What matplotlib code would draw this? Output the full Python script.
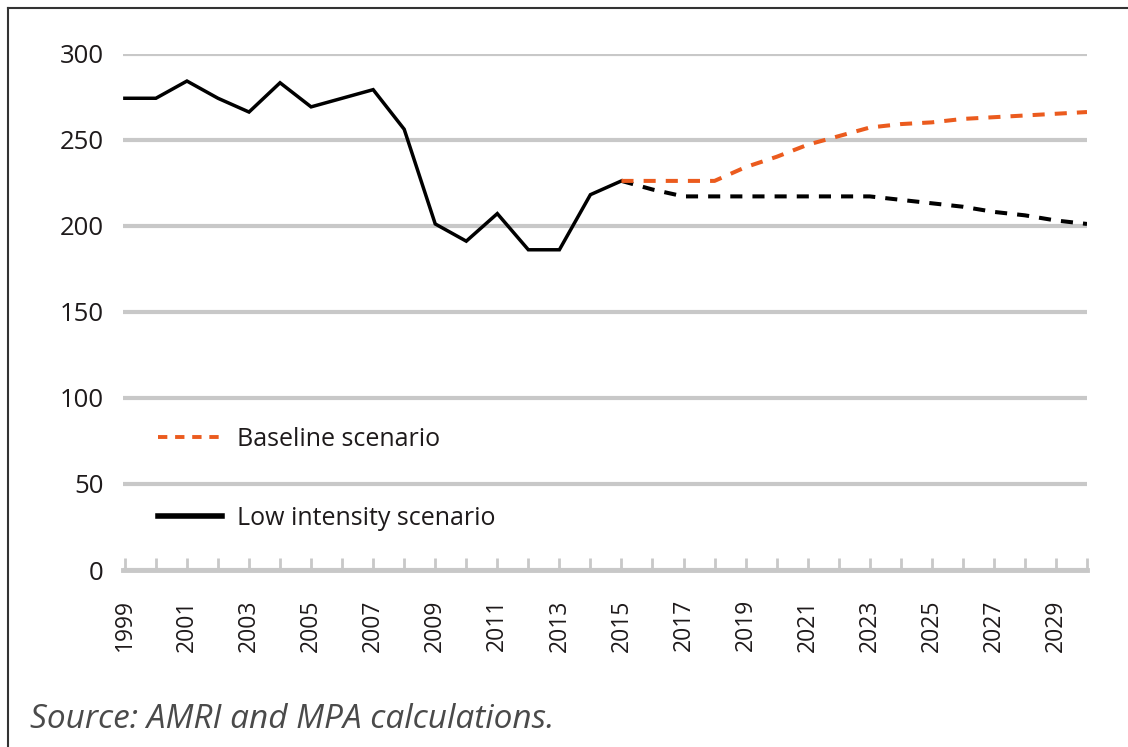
import matplotlib
matplotlib.use("Agg")
import matplotlib.pyplot as plt
from matplotlib.lines import Line2D

plt.rcParams['font.family'] = ['Open Sans', 'DejaVu Sans']

# data
hist_years = list(range(1999, 2016))
low_hist = [274, 274, 284, 274, 266, 283, 269, 274, 279, 256,
            201, 191, 207, 186, 186, 218, 226]

proj_years = list(range(2015, 2031))
baseline = [226, 226, 226, 226, 234, 240, 247, 252, 257,
            259, 260, 262, 263, 264, 265, 266]
low_proj = [226, 221, 217, 217, 217, 217, 217, 217, 217,
            215, 213, 211, 208, 206, 203, 201]

tick_years = list(range(1999, 2031))
tick_labels = [str(y) if (y - 1999) % 2 == 0 else '' for y in tick_years]
y_ticks = [0, 50, 100, 150, 200, 250, 300]

orange = '#EB5B1E'
grid_col = '#c8c8c8'
text_col = '#1e1a1b'

W, H = 1128, 747
fig = plt.figure(figsize=(W / 100, H / 100), dpi=100)
ax = fig.add_axes([123 / W, 1 - 570 / H, (1087 - 123) / W, (570 - 53.5) / H])

ax.plot(hist_years, low_hist, color='black', lw=2.5, solid_joinstyle='miter', zorder=3)
ax.plot(proj_years, low_proj, color='black', lw=2.9, dashes=(3.0, 2.5), zorder=3)
ax.plot(proj_years, baseline, color=orange, lw=2.9, dashes=(3.0, 2.5), zorder=3)

ax.set_xlim(1998.94, 2030)
ax.set_ylim(0, 300)
ax.set_yticks(y_ticks)
ax.set_xticks(tick_years)
ax.set_xticklabels(tick_labels, rotation=90)
ax.grid(axis='y', color=grid_col, lw=3)
ax.set_axisbelow(True)

for s in ['top', 'right', 'left']:
    ax.spines[s].set_visible(False)
ax.spines['bottom'].set_color(grid_col)
ax.spines['bottom'].set_linewidth(3.5)
ax.tick_params(axis='x', direction='in', length=9, width=2, color=grid_col,
               pad=21, labelsize=16.5, labelcolor=text_col)
ax.tick_params(axis='y', length=0, pad=14, labelsize=18.5, labelcolor=text_col)

handles = [Line2D([], [], color=orange, lw=2.8, dashes=(2.4, 2.0)),
           Line2D([], [], color='black', lw=4.0)]
ax.legend(handles, ['Baseline scenario', 'Low intensity scenario'],
          loc='lower left', bbox_to_anchor=(0.013, 0.032), frameon=False,
          fontsize=18, handlelength=2.55, handletextpad=0.6, labelspacing=2.15,
          labelcolor=text_col)

fig.text(30 / W, 1 - 728 / H, 'Source: AMRI and MPA calculations.',
         fontsize=24, style='italic', color='#4a4a4a', va='baseline')

# frame around the figure (left and top edges visible)
fig.add_artist(Line2D([8 / W, 8 / W], [0, 1 - 8 / H], color='#333333', lw=1.5,
                      transform=fig.transFigure))
fig.add_artist(Line2D([8 / W, 1], [1 - 8 / H, 1 - 8 / H], color='#333333', lw=1.5,
                      transform=fig.transFigure))

fig.savefig('out.png', dpi=100)
